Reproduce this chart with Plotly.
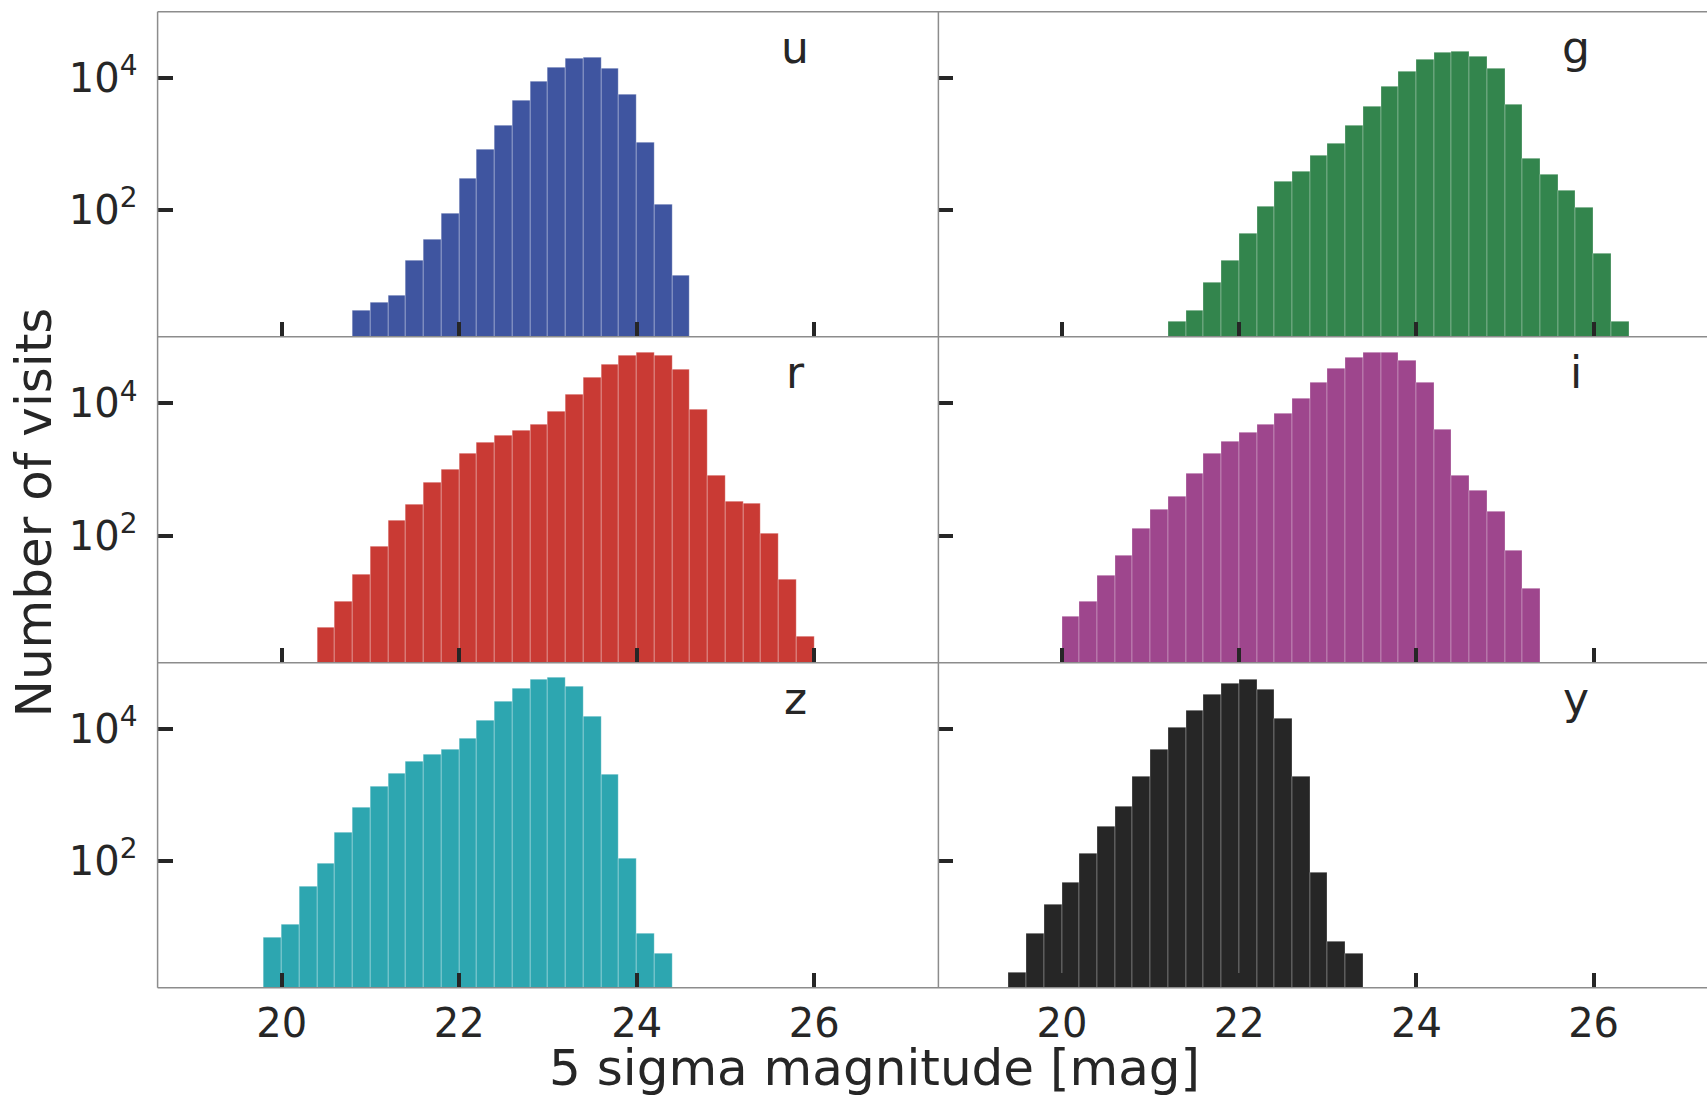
import numpy as np
import plotly.graph_objects as go

W, H = 1707, 1095
BIN_WIDTH = 0.2

filters = ["u", "g", "r", "i", "z", "y"]
colors = ["#3F55A0", "#33854D", "#C93A34", "#9E468D", "#2DA6B0", "#262626"]
bin_start = [20.8, 21.2, 20.4, 20.0, 19.8, 19.4]

u_counts = [3, 4, 5, 17, 35, 89, 300, 830, 1920, 4650, 8900, 14700, 20100, 20600,
            14000, 5700, 1050, 122, 10]
g_counts = [2, 3, 8, 17, 44, 112, 270, 380, 660, 1010, 1900, 3680, 7400, 12800, 19200,
            24500, 25100, 21000, 13800, 3950, 610, 350, 200, 110, 22, 2]
r_counts = [4, 10, 26, 69, 169, 292, 630, 980, 1740, 2560, 3230, 3890, 4740, 7550, 13700,
            24300, 38600, 53600, 58900, 52400, 32100, 8020, 815, 328, 310, 106, 22, 3]
i_counts = [6, 10, 25, 50, 128, 251, 391, 865, 1720, 2680, 3580, 4850, 7130, 11800, 20600,
            33700, 48900, 58900, 58900, 44500, 20600, 4030, 796, 483, 234, 60, 16]
z_counts = [7, 11, 41, 92, 268, 640, 1330, 2110, 3170, 4090, 4930, 7310, 13700, 26200,
            41700, 56400, 59700, 43700, 15700, 2070, 107, 8, 4]
y_counts = [2, 8, 22, 47, 129, 334, 662, 1930, 4930, 10400, 19400, 33800, 49000, 55700,
            40300, 14700, 1880, 67, 6, 4]
all_counts = [u_counts, g_counts, r_counts, i_counts, z_counts, y_counts]

x_tickvals = [20, 22, 24, 26]
y_tickvals = [100, 10000]
y_ticktext = ["10<sup>2</sup>", "10<sup>4</sup>"]

x_title = "5 sigma magnitude [mag]"
y_title = "Number of visits"

# layout geometry (pixels)
col_px = [(157.6, 938.4), (938.4, 1707.0)]
row_px = [(11.7, 336.7), (336.7, 662.7), (662.7, 987.7)]
col_xrange = [[18.6, 27.4], [18.605, 27.28]]
y_log_range = [0.08, 5.01]

FONT = "DejaVu Sans"
TXT = "#262626"
FRAME = "#8c8c8c"

fig = go.Figure()
layout = dict(
    width=W, height=H, margin=dict(l=0, r=0, t=0, b=0, pad=0), autosize=False,
    paper_bgcolor="white", plot_bgcolor="white", showlegend=False,
    bargap=0, font=dict(family=FONT, color=TXT),
)

annotations = []
for k, (name, col, start, counts) in enumerate(zip(filters, colors, bin_start, all_counts)):
    r, c = divmod(k, 2)
    ax = "" if k == 0 else str(k + 1)
    edges = np.round(start + BIN_WIDTH * np.arange(len(counts)), 2)
    fig.add_trace(go.Bar(
        x=edges, y=counts, width=BIN_WIDTH, offset=0,
        marker=dict(color=col, line=dict(color="rgba(255,255,255,0.35)", width=0.8)),
        xaxis="x" + ax, yaxis="y" + ax, hoverinfo="x+y",
    ))
    x0, x1 = col_px[c]
    y0, y1 = row_px[r]
    layout["xaxis" + ax] = dict(
        domain=[x0 / W, x1 / W], range=col_xrange[c], anchor="y" + ax, automargin=False,
        tickvals=x_tickvals, ticks="inside", ticklen=15, tickwidth=3.5, tickcolor=TXT,
        showticklabels=(r == 2), tickfont=dict(size=40, color=TXT, family=FONT),
        showgrid=False, zeroline=False, showline=False, ticklabelstandoff=8,
    )
    layout["yaxis" + ax] = dict(
        domain=[1 - y1 / H, 1 - y0 / H], type="log", range=y_log_range, anchor="x" + ax,
        automargin=False,
        tickvals=y_tickvals, ticktext=y_ticktext, ticks="inside", ticklen=15, tickwidth=3.5,
        tickcolor=TXT, showticklabels=(c == 0),
        tickfont=dict(size=40, color=TXT, family=FONT),
        showgrid=False, zeroline=False, showline=False, ticklabelstandoff=19,
    )
    label_x = [795.0, 1576.0][c]
    annotations.append(dict(
        text=name, x=label_x / W, y=1 - (y0 + 35.5) / H, xref="paper", yref="paper",
        xanchor="center", yanchor="middle", showarrow=False,
        font=dict(size=44, color=TXT, family=FONT),
    ))

annotations.append(dict(
    text=y_title, x=33.5 / W, y=1 - 513 / H, xref="paper", yref="paper",
    xanchor="center", yanchor="middle", textangle=-90, showarrow=False,
    font=dict(size=50, color=TXT, family=FONT),
))
annotations.append(dict(
    text=x_title, x=875 / W, y=1 - 1068 / H, xref="paper", yref="paper",
    xanchor="center", yanchor="middle", showarrow=False,
    font=dict(size=50, color=TXT, family=FONT),
))

shapes = []
for yy in [row_px[0][0], row_px[0][1], row_px[1][1], row_px[2][1]]:
    shapes.append(dict(type="line", xref="paper", yref="paper", layer="above",
                       x0=col_px[0][0] / W, x1=1.0, y0=1 - yy / H, y1=1 - yy / H,
                       line=dict(color=FRAME, width=1.5)))
for xx in [col_px[0][0], col_px[1][0]]:
    shapes.append(dict(type="line", xref="paper", yref="paper", layer="above",
                       x0=xx / W, x1=xx / W, y0=1 - row_px[2][1] / H, y1=1 - row_px[0][0] / H,
                       line=dict(color=FRAME, width=1.5)))

layout["annotations"] = annotations
layout["shapes"] = shapes
fig.update_layout(**layout)
fig.write_html(
    "out.html",
    config={"displayModeBar": False},
    post_script="document.body.style.margin='0';document.body.style.overflow='hidden';",
)
